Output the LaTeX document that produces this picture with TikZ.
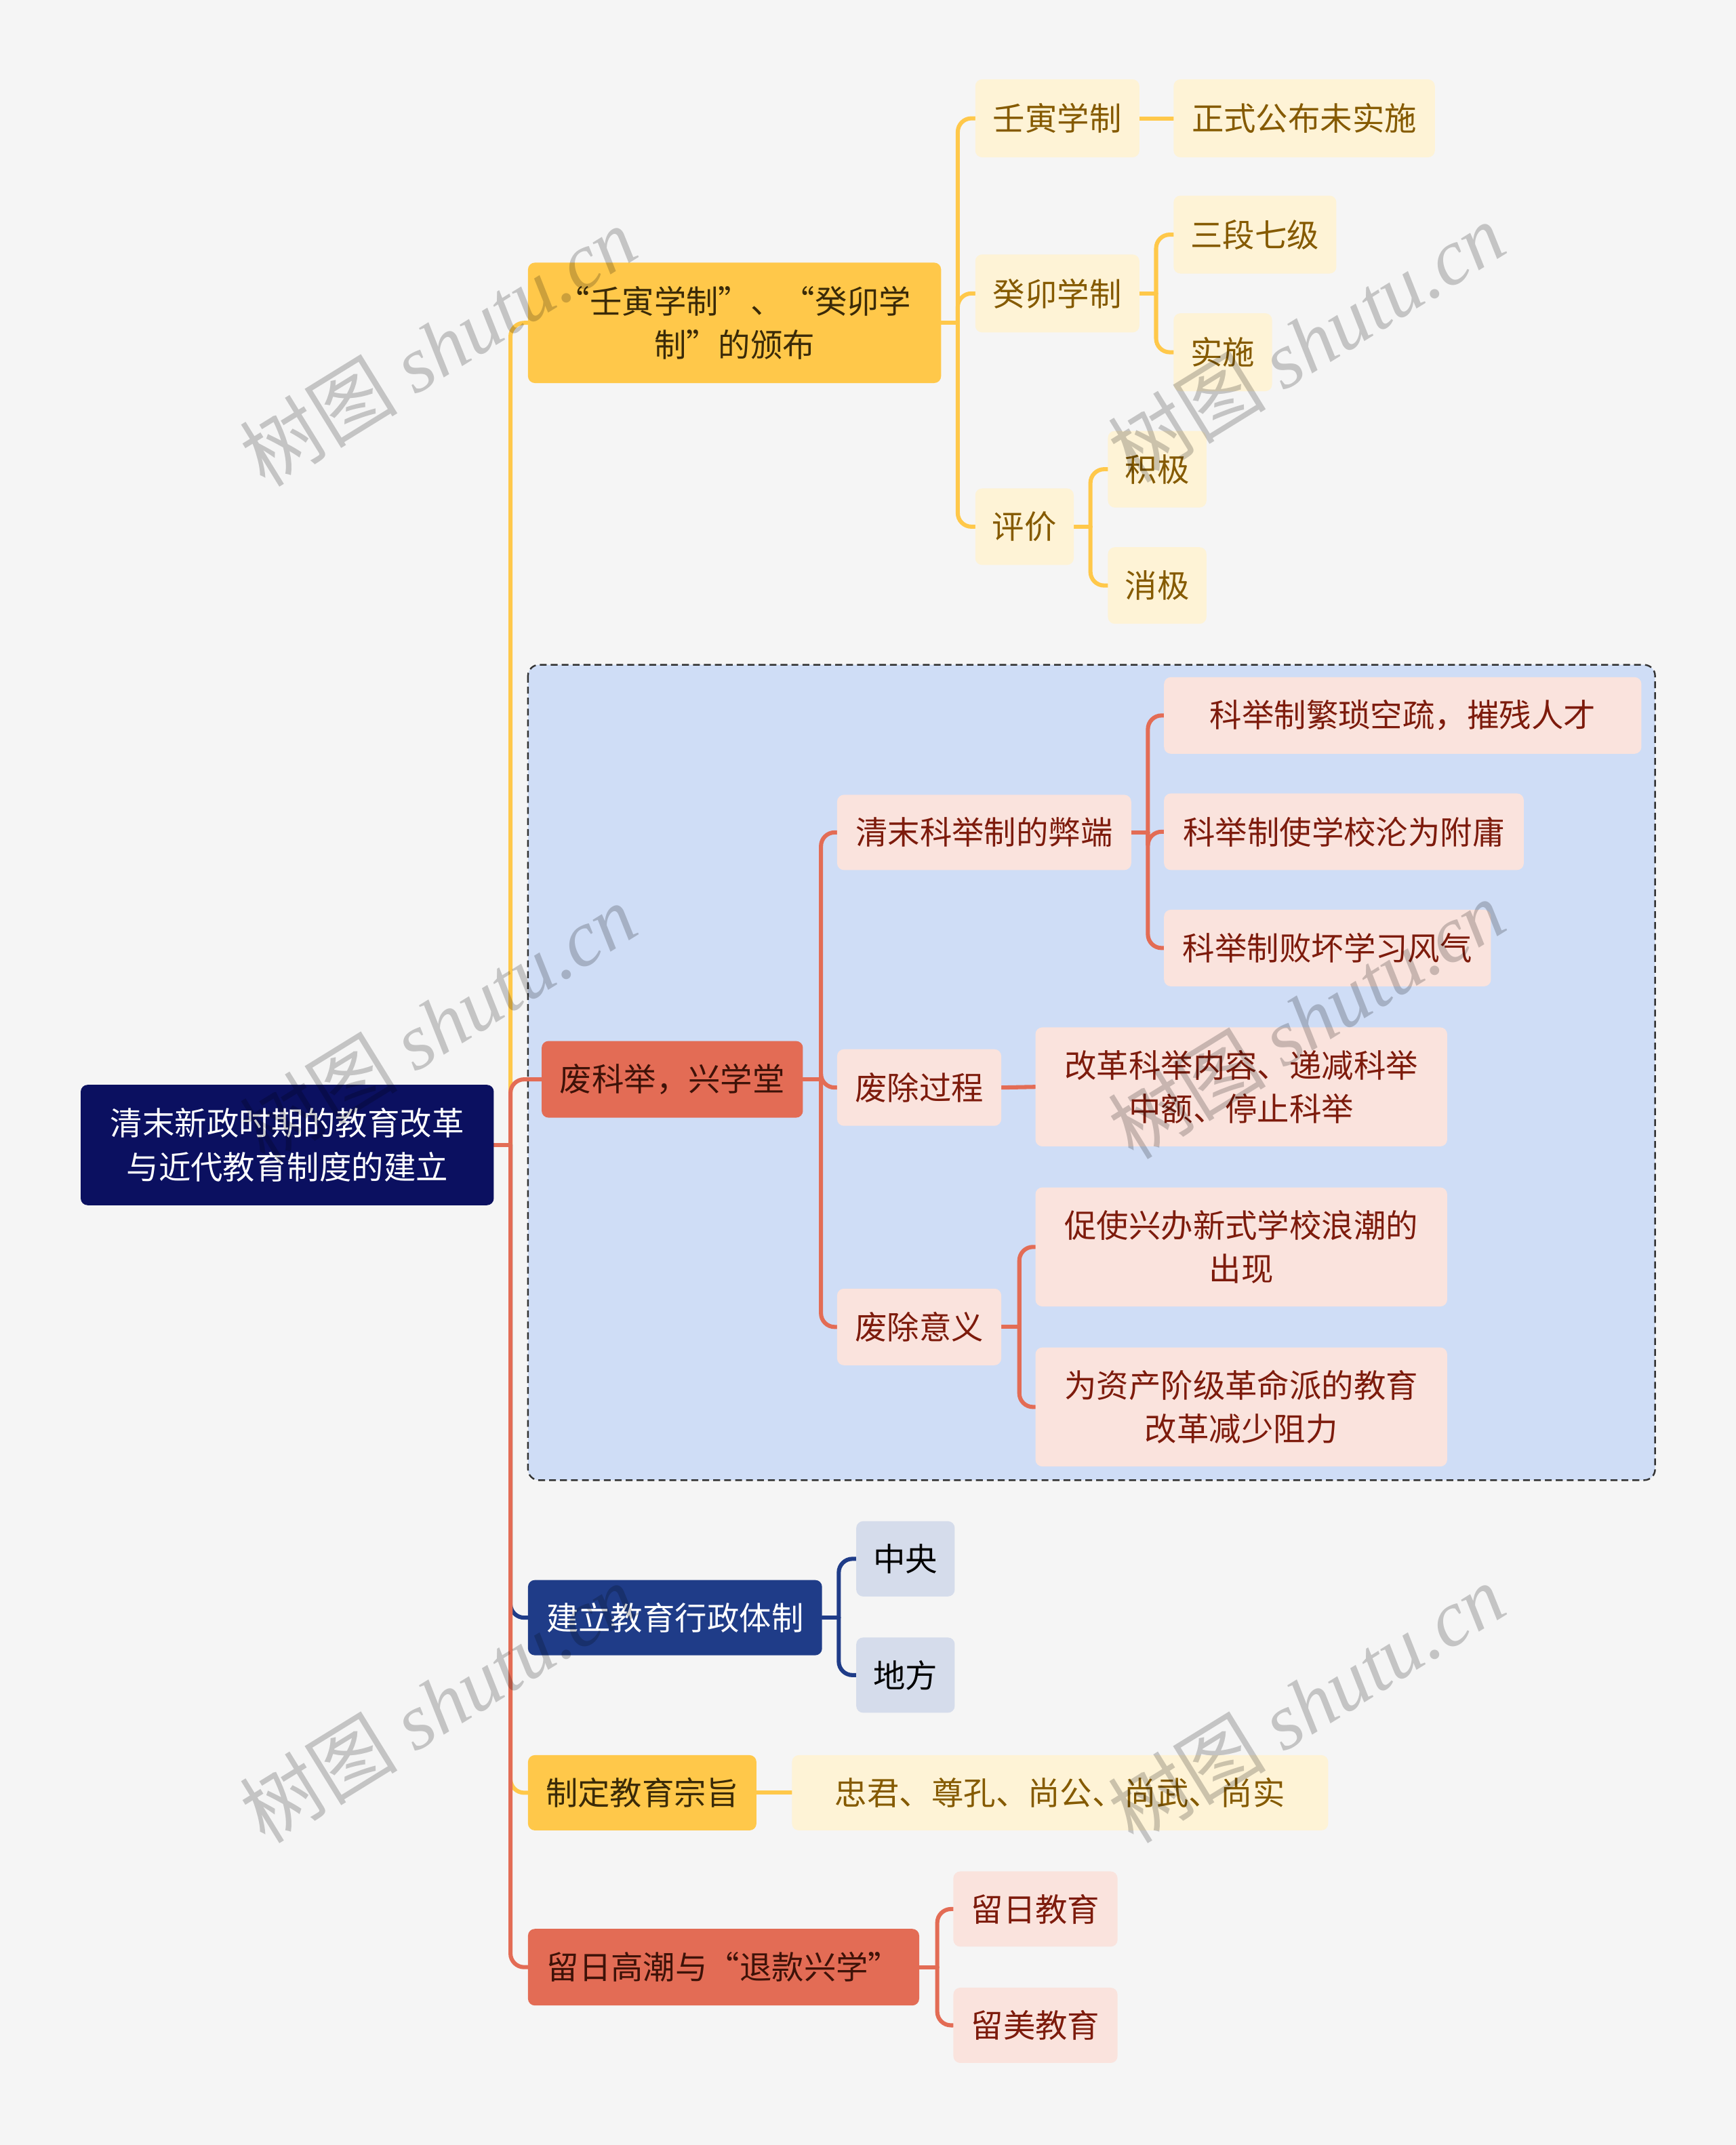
\documentclass[tikz,border=0pt]{standalone}
\usepackage{fontspec}
\setmainfont{Noto Sans CJK SC}
\newfontfamily\wmlat{Liberation Serif}
\definecolor{bgc}{HTML}{F5F5F5}
\definecolor{yel}{HTML}{FFC84A}
\definecolor{cream}{HTML}{FEF3D6}
\definecolor{creamtxt}{HTML}{855A00}
\definecolor{redf}{HTML}{E36C55}
\definecolor{pink}{HTML}{FAE3DD}
\definecolor{pinktxt}{HTML}{7D1B0C}
\definecolor{navy}{HTML}{0B1060}
\definecolor{bluef}{HTML}{1F3C88}
\definecolor{grayb}{HTML}{D5DCEB}
\definecolor{lblue}{HTML}{CFDDF6}
\definecolor{darktxt}{HTML}{3A2A08}
\definecolor{redtxt}{HTML}{3E1208}
\pgfdeclarelayer{bgl}
\pgfdeclarelayer{midl}
\pgfsetlayers{bgl,midl,main}
\newcommand\bx[7]{\node[#1, minimum width=#5pt, minimum height=#6pt] (#2) at (#3,#4) {#7};}
\newcommand\br[3]{\draw[#1, rounded corners=10pt] (#2) |- (#3.west);}
\begin{document}
\begin{tikzpicture}[x=1pt,y=-1pt,
  box/.style={rounded corners=5pt, inner sep=0pt, align=center, font=\fontsize{23.5}{32}\selectfont},
  rootbox/.style={box, fill=navy, text=white},
  yelbox/.style={box, fill=yel, text=darktxt},
  redbox/.style={box, fill=redf, text=redtxt},
  bluebox/.style={box, fill=bluef, text=white},
  creambox/.style={box, fill=cream, text=creamtxt},
  pinkbox/.style={box, fill=pink, text=pinktxt},
  graybox/.style={box, fill=grayb, text=black},
  ln/.style={line width=3pt, line cap=round},
  lnY/.style={ln, draw=yel},
  lnR/.style={ln, draw=redf},
  lnB/.style={ln, draw=bluef},
  wm/.style={text=black, opacity=0.2, rotate=31.7, font=\fontsize{58}{60}\selectfont}
]
\begin{pgfonlayer}{bgl}
\fill[bgc] (0,0) rectangle (1269,1568);
\draw[fill=lblue, draw=black!80, line width=1.2pt, dash pattern=on 5pt off 3pt, rounded corners=8pt] (386,486) rectangle (1210,1082);
\end{pgfonlayer}
\useasboundingbox (0,0) rectangle (1269,1568);

% nodes
\bx{rootbox}{root}{210}{837}{302}{88}{清末新政时期的教育改革\\与近代教育制度的建立}
\bx{yelbox}{A}{537}{236}{302}{88}{“壬寅学制”、“癸卯学\\制”的颁布}
\bx{redbox}{B}{491.5}{789}{191}{56}{废科举，兴学堂}
\bx{bluebox}{C}{493.5}{1182.5}{215}{55}{建立教育行政体制}
\bx{yelbox}{D}{469.5}{1310.5}{167}{55}{制定教育宗旨}
\bx{redbox}{E}{529}{1438}{286}{56}{留日高潮与“退款兴学”}

\bx{creambox}{a1}{773}{86.5}{120}{57}{壬寅学制}
\bx{creambox}{a11}{953.5}{86.5}{191}{57}{正式公布未实施}
\bx{creambox}{a2}{773}{214.5}{120}{57}{癸卯学制}
\bx{creambox}{a21}{917.5}{171.5}{119}{57}{三段七级}
\bx{creambox}{a22}{894}{257.5}{72}{57}{实施}
\bx{creambox}{a3}{749}{385}{72}{56}{评价}
\bx{creambox}{a31}{846}{343}{72}{56}{积极}
\bx{creambox}{a32}{846}{428}{72}{56}{消极}

\bx{pinkbox}{b1}{719.5}{608.5}{215}{55}{清末科举制的弊端}
\bx{pinkbox}{b11}{1025.5}{523}{349}{56}{科举制繁琐空疏，摧残人才}
\bx{pinkbox}{b12}{982.5}{608}{263}{56}{科举制使学校沦为附庸}
\bx{pinkbox}{b13}{970.5}{693}{239}{56}{科举制败坏学习风气}
\bx{pinkbox}{b2}{672}{795}{120}{56}{废除过程}
\bx{pinkbox}{b21}{907.5}{794.5}{301}{87}{改革科举内容、递减科举\\中额、停止科举}
\bx{pinkbox}{b3}{672}{970}{120}{56}{废除意义}
\bx{pinkbox}{b31}{907.5}{911.5}{301}{87}{促使兴办新式学校浪潮的\\出现}
\bx{pinkbox}{b32}{907.5}{1028.5}{301}{87}{为资产阶级革命派的教育\\改革减少阻力}

\bx{graybox}{c1}{662}{1139.5}{72}{55}{中央}
\bx{graybox}{c2}{662}{1224.5}{72}{55}{地方}
\bx{creambox}{d1}{775}{1310.5}{392}{55}{忠君、尊孔、尚公、尚武、尚实}
\bx{pinkbox}{e1}{757}{1395.5}{120}{55}{留日教育}
\bx{pinkbox}{e2}{757}{1480.5}{120}{55}{留美教育}

% connectors
\begin{pgfonlayer}{midl}
\draw[lnR] (root.east) -- ++(12,0) coordinate (jr);
\br{lnY}{jr}{A}
\br{lnR}{jr}{B}
\br{lnB}{jr}{C}
\br{lnY}{jr}{D}
\br{lnR}{jr}{E}

\draw[lnY] (A.east) -- ++(12,0) coordinate (ja);
\br{lnY}{ja}{a1}
\br{lnY}{ja}{a2}
\br{lnY}{ja}{a3}
\draw[lnY] (a1.east) -- (a11.west);
\draw[lnY] (a2.east) -- ++(12,0) coordinate (ja2);
\br{lnY}{ja2}{a21}
\br{lnY}{ja2}{a22}
\draw[lnY] (a3.east) -- ++(12,0) coordinate (ja3);
\br{lnY}{ja3}{a31}
\br{lnY}{ja3}{a32}

\draw[lnR] (B.east) -- ++(13,0) coordinate (jb);
\br{lnR}{jb}{b1}
\br{lnR}{jb}{b2}
\br{lnR}{jb}{b3}
\draw[lnR] (b1.east) -- ++(12,0) coordinate (jb1);
\br{lnR}{jb1}{b11}
\br{lnR}{jb1}{b12}
\br{lnR}{jb1}{b13}
\draw[lnR] (b2.east) -- (b21.west);
\draw[lnR] (b3.east) -- ++(13,0) coordinate (jb3);
\br{lnR}{jb3}{b31}
\br{lnR}{jb3}{b32}

\draw[lnB] (C.east) -- ++(12,0) coordinate (jc);
\br{lnB}{jc}{c1}
\br{lnB}{jc}{c2}
\draw[lnY] (D.east) -- (d1.west);
\draw[lnR] (E.east) -- ++(13,0) coordinate (je);
\br{lnR}{je}{e1}
\br{lnR}{je}{e2}
\end{pgfonlayer}

% watermarks
\node[wm] (w1) at (320,253) {树图 {\wmlat\itshape shutu.cn}};
\node[wm] (w2) at (955,250) {树图 {\wmlat\itshape shutu.cn}};
\node[wm] (w3) at (320,748) {树图 {\wmlat\itshape shutu.cn}};
\node[wm] (w4) at (955,745) {树图 {\wmlat\itshape shutu.cn}};
\node[wm] (w5) at (320,1245) {树图 {\wmlat\itshape shutu.cn}};
\node[wm] (w6) at (955,1245) {树图 {\wmlat\itshape shutu.cn}};
\end{tikzpicture}
\end{document}
